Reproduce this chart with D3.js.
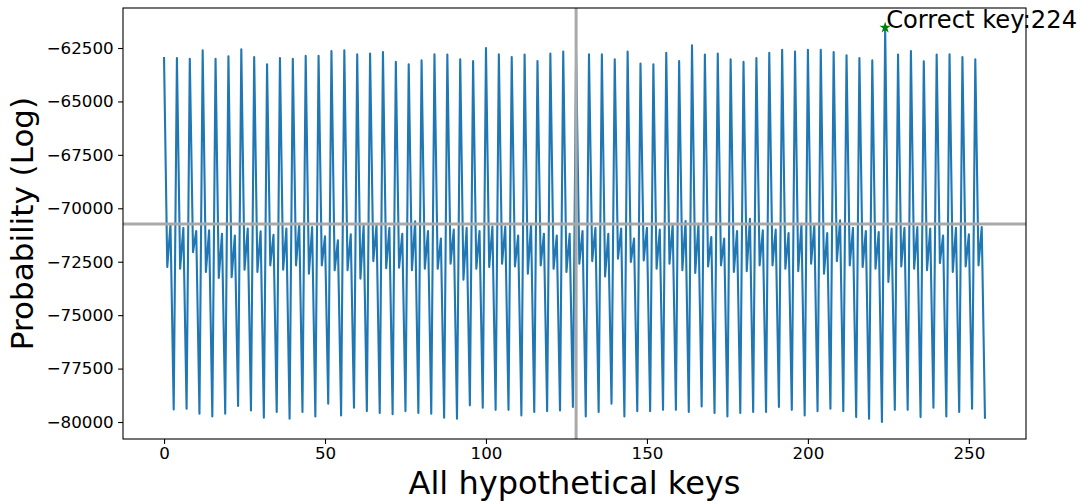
<!DOCTYPE html>
<html>
<head>
<meta charset="utf-8">
<script src="https://cdn.jsdelivr.net/npm/d3@7"></script>
<style>
	body { margin: 0; background: #fff; }
	svg text { font-family: "DejaVu Sans", sans-serif; fill: #000; }
</style>
</head>
<body>
<svg id="chart" width="1087" height="501"></svg>
<script>
// log probability for every hypothetical key
const probs = [
	-62970, -72750, -70750, -79410, -62970, -72830, -70910, -79380,
	-63000, -72050, -71060, -79610, -62610, -72980, -71030, -79740,
	-63000, -73260, -71190, -79610, -62890, -73220, -71270, -79250,
	-62560, -72870, -70950, -79460, -62920, -72980, -71080, -79800,
	-63260, -72670, -71240, -79530, -62970, -72870, -70950, -79850,
	-63000, -72670, -70720, -79530, -62870, -73060, -70880, -79740,
	-62870, -72670, -71310, -79140, -62640, -72900, -71500, -79690,
	-62610, -72900, -71220, -79330, -62800, -73290, -70800, -79490,
	-62760, -72470, -70800, -79580, -62690, -72800, -70910, -79640,
	-63150, -72780, -71190, -79490, -63260, -72900, -70610, -79580,
	-63080, -72830, -71060, -79610, -62800, -72830, -71420, -79800,
	-62810, -72590, -71000, -79850, -63030, -73340, -70910, -79220,
	-63110, -72830, -71060, -79330, -62500, -72750, -70850, -79430,
	-62800, -72590, -70850, -79430, -62920, -72720, -71270, -79690,
	-62810, -73060, -70750, -79530, -63110, -72670, -71190, -79490,
	-62760, -72830, -71270, -79460, -62660, -72980, -71190, -79300,
	-62800, -72590, -71060, -79740, -62800, -72470, -70910, -79530,
	-62800, -73190, -71190, -79140, -63030, -72360, -70950, -79740,
	-62660, -72510, -71420, -79490, -63230, -72440, -70910, -79490,
	-63260, -72830, -71000, -79430, -62720, -72590, -70750, -79430,
	-63110, -72900, -70600, -79530, -62370, -73030, -70750, -79270,
	-62810, -72720, -71340, -79580, -62760, -72670, -71420, -79740,
	-63030, -72980, -71060, -79580, -63150, -72940, -70490, -79530,
	-62970, -72670, -71030, -79530, -62730, -72670, -71000, -79300,
	-62580, -72830, -71160, -79430, -62660, -72940, -70750, -79690,
	-62580, -72590, -70800, -79490, -62580, -73060, -71160, -79380,
	-62690, -72470, -70560, -79490, -62840, -72670, -70910, -79770,
	-62970, -72750, -71060, -79850, -63080, -72830, -71110, -80000,
	-61545, -73450, -70950, -79430, -62810, -72720, -70910, -79430,
	-62640, -72830, -70880, -79770, -63120, -72900, -70950, -79330,
	-62810, -72560, -71270, -79740, -62800, -72980, -70910, -79530,
	-62920, -72720, -71220, -79380, -63030, -72670, -70880, -79800
];
const keys = d3.range(probs.length);

const correctKey = 224;
const refLineY = -70740;   // horizontal reference line
const refLineX = 128;      // vertical reference line

const xTicks = [0, 50, 100, 150, 200, 250];
const yTicks = [-80000, -77500, -75000, -72500, -70000, -67500, -65000, -62500];

const xLabel = "All hypothetical keys";
const yLabel = "Probability (Log)";

// layout
const plot = { left: 123, right: 1026, top: 8, bottom: 439 };
const svg = d3.select("#chart");

const x = d3.scaleLinear()
	.domain([-12.75, 267.75])
	.range([plot.left, plot.right]);

const y = d3.scaleLinear()
	.domain([-80795, -60628])
	.range([plot.bottom, plot.top]);

// data line
const line = d3.line()
	.x((d, i) => x(keys[i]))
	.y(d => y(d));

svg.append("path")
	.datum(probs)
	.attr("d", line)
	.attr("fill", "none")
	.attr("stroke", "#1f77b4")
	.attr("stroke-width", 2.1)
	.attr("stroke-linejoin", "round")
	.attr("stroke-linecap", "square");

// reference lines
svg.append("line")
	.attr("x1", plot.left).attr("x2", plot.right)
	.attr("y1", y(refLineY)).attr("y2", y(refLineY))
	.attr("stroke", "#a9a9a9")
	.attr("stroke-width", 3);

svg.append("line")
	.attr("x1", x(refLineX)).attr("x2", x(refLineX))
	.attr("y1", plot.top).attr("y2", plot.bottom)
	.attr("stroke", "#a9a9a9")
	.attr("stroke-width", 3);

// correct key marker + label
svg.append("path")
	.attr("d", d3.symbol().type(d3.symbolStar).size(40))
	.attr("transform", `translate(${x(correctKey)},${y(probs[correctKey])})`)
	.attr("fill", "#008000");

svg.append("text")
	.attr("x", x(correctKey) + 1)
	.attr("y", y(probs[correctKey]))
	.attr("font-size", "24.2px")
	.text("Correct key:" + correctKey);

// axes
const xAxis = d3.axisBottom(x)
	.tickValues(xTicks)
	.tickSize(4.9)
	.tickPadding(3.4)
	.tickFormat(d3.format("d"));

const yAxis = d3.axisLeft(y)
	.tickValues(yTicks)
	.tickSize(4.9)
	.tickPadding(4.4)
	.tickFormat(d3.format("d"));

const gx = svg.append("g")
	.attr("transform", `translate(0,${plot.bottom})`)
	.call(xAxis);

const gy = svg.append("g")
	.attr("transform", `translate(${plot.left},0)`)
	.call(yAxis);

[gx, gy].forEach(g => {
	g.select(".domain").remove();
	g.selectAll(".tick line").attr("stroke", "#000").attr("stroke-width", 1.1);
	g.selectAll(".tick text")
		.attr("font-size", "16.7px")
		.attr("font-family", "DejaVu Sans, sans-serif")
		.attr("fill", "#000");
});

// frame
svg.append("rect")
	.attr("x", plot.left)
	.attr("y", plot.top)
	.attr("width", plot.right - plot.left)
	.attr("height", plot.bottom - plot.top)
	.attr("fill", "none")
	.attr("stroke", "#000")
	.attr("stroke-width", 1.1);

// axis titles
svg.append("text")
	.attr("x", (plot.left + plot.right) / 2)
	.attr("y", 494)
	.attr("text-anchor", "middle")
	.attr("font-size", "32px")
	.text(xLabel);

svg.append("text")
	.attr("transform", `translate(33,${(plot.top + plot.bottom) / 2}) rotate(-90)`)
	.attr("text-anchor", "middle")
	.attr("font-size", "31px")
	.text(yLabel);
</script>
</body>
</html>
